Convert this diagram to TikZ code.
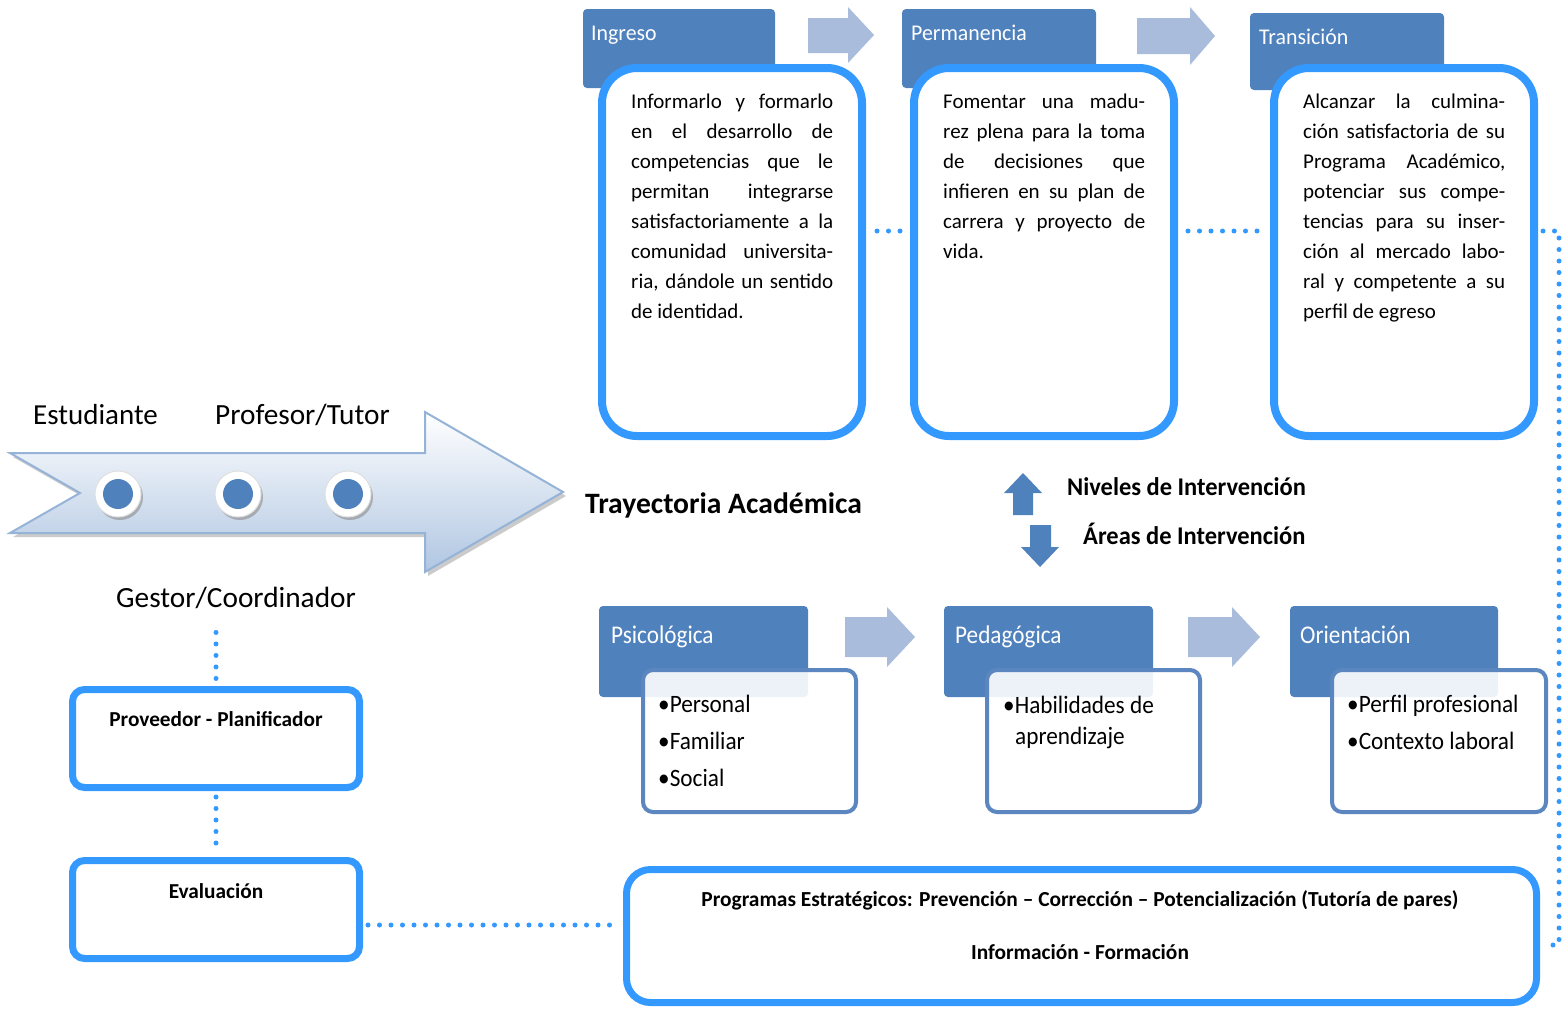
\documentclass[tikz,border=0pt]{standalone}
\usepackage{fontspec}
\setmainfont{Carlito}
\usetikzlibrary{shadows,calc}
\definecolor{hdr}{HTML}{4F81BD}
\definecolor{brt}{HTML}{3399FF}
\definecolor{lar}{HTML}{A9BCDB}
\definecolor{abord}{HTML}{95B3D7}
\definecolor{agrad}{HTML}{B0C6E2}
\definecolor{sbord}{HTML}{5B86BF}
\newcommand{\bodyfont}{\fontsize{21}{30}\selectfont\tolerance=10000\hyphenpenalty=10000\rightskip=0pt}
\newcommand{\hdrtext}[1]{\scalebox{0.97}[1]{\fontsize{22.5}{24}\selectfont #1}}
\newcommand{\hdrtextb}[1]{\scalebox{0.91}[1]{\fontsize{25.5}{26}\selectfont #1}}
\newcommand{\bultext}[1]{\scalebox{0.93}[1]{\fontsize{25}{26}\selectfont #1}}
\begin{document}
\begin{tikzpicture}[x=1pt,y=-1pt,
  hdrbox/.style={fill=hdr, draw=none, rounded corners=4pt, inner sep=0pt},
  bigbox/.style={draw=brt, line width=8pt, fill=white, rounded corners=35pt, inner sep=0pt},
  smallbox/.style={draw=sbord, line width=4pt, fill=white, fill opacity=0.9, rounded corners=10pt, inner sep=0pt},
  midbox/.style={draw=brt, line width=7pt, fill=white, rounded corners=12pt, inner sep=0pt},
  lbl/.style={inner sep=0pt, text=black},
  hlbl/.style={inner sep=0pt, text=white, anchor=base west},
  dotline/.style={draw=brt, line width=5pt, line cap=round, dash pattern=on 0pt off 11.5pt},
  lightarrow/.style={fill=lar, draw=none},
  ring/.style={circle, fill=white, draw=black!12, line width=1pt, minimum size=46pt, inner sep=0pt,
     drop shadow={shadow xshift=2pt, shadow yshift=-3pt, fill=black!45, opacity=0.6}},
  dotc/.style={circle, fill=hdr, minimum size=30pt, inner sep=0pt}
]
\useasboundingbox (0,0) rectangle (1562,1010);
\fill[white] (0,0) rectangle (1562,1010);

% ---------- top row ----------
\node[hdrbox, minimum width=192pt, minimum height=79pt] (inghdr) at (679,48.5) {};
\node[hdrbox, minimum width=194pt, minimum height=79pt] (permhdr) at (999,48.5) {};
\node[hdrbox, minimum width=194pt, minimum height=77pt] (transhdr) at (1347,51.5) {};
\node[hlbl] (ingt) at (591,40) {\hdrtext{Ingreso}};
\node[hlbl] (permt) at (911,40) {\hdrtext{Permanencia}};
\node[hlbl] (transt) at (1259,44) {\hdrtext{Transición}};

\fill[lightarrow] (808,18) -- (848,18) -- (848,7) -- (874,35) -- (848,63) -- (848,53) -- (808,53) -- cycle;
\fill[lightarrow] (1137,18) -- (1190,18) -- (1190,7) -- (1215,36) -- (1190,65) -- (1190,54) -- (1137,54) -- cycle;

\node[bigbox, minimum width=260pt, minimum height=368pt] (ingbox) at (732,252) {};
\node[bigbox, minimum width=260pt, minimum height=368pt] (permbox) at (1044,252) {};
\node[bigbox, minimum width=260pt, minimum height=368pt] (transbox) at (1404,252) {};

\node[lbl, anchor=base west] (ingtxt) at (631,108) {\parbox[t]{202pt}{\bodyfont
Informarlo y formarlo\linebreak
en el desarrollo de\linebreak
competencias que le\linebreak
permitan integrarse\linebreak
satisfactoriamente a la\linebreak
comunidad universita-\linebreak
ria, dándole un sentido\linebreak
de identidad.}};
\node[lbl, anchor=base west] (permtxt) at (943,108) {\parbox[t]{202pt}{\bodyfont
Fomentar una madu-\linebreak
rez plena para la toma\linebreak
de decisiones que\linebreak
infieren en su plan de\linebreak
carrera y proyecto de\linebreak
vida.}};
\node[lbl, anchor=base west] (transtxt) at (1303,108) {\parbox[t]{202pt}{\bodyfont
Alcanzar la culmina-\linebreak
ción satisfactoria de su\linebreak
Programa Académico,\linebreak
potenciar sus compe-\linebreak
tencias para su inser-\linebreak
ción al mercado labo-\linebreak
ral y competente a su\linebreak
perfil de egreso}};

% ---------- big arrow ----------
\fill[black!40, opacity=0.5, xshift=3pt, yshift=-4pt] (10,453) -- (425,453) -- (425,412) -- (563,492) -- (425,572) -- (425,533) -- (10,533) -- (80,493) -- cycle;
\shadedraw[top color=white, bottom color=agrad, draw=abord, line width=2pt, line join=miter]
  (10,453) -- (425,453) -- (425,412) -- (563,492) -- (425,572) -- (425,533) -- (10,533) -- (80,493) -- cycle;
\node[ring] (r1) at (118,494) {};
\node[ring] (r2) at (238,494) {};
\node[ring] (r3) at (348,494) {};
\node[dotc] (d1) at (r1) {};
\node[dotc] (d2) at (r2) {};
\node[dotc] (d3) at (r3) {};

\node[lbl, anchor=base west] (estud) at (33,424) {\fontsize{29}{30}\selectfont Estudiante};
\node[lbl, anchor=base west] (prof) at (215,424) {\fontsize{29.3}{30}\selectfont Profesor/Tutor};
\node[lbl, anchor=base west] (gestor) at (116,607) {\fontsize{29.3}{30}\selectfont Gestor/Coordinador};
\node[lbl, anchor=base west] (tray) at (585,513) {\fontsize{29.6}{30}\selectfont\bfseries Trayectoria Académica};

% ---------- niveles / areas ----------
\fill[hdr] (1023,473) -- (1042,493) -- (1033,493) -- (1033,515) -- (1013,515) -- (1013,493) -- (1004,493) -- cycle;
\fill[hdr] (1040,567) -- (1059,547) -- (1051,547) -- (1051,525) -- (1030,525) -- (1030,547) -- (1021,547) -- cycle;
\node[lbl, anchor=base west] (niv) at (1067,495) {\scalebox{0.96}[1]{\fontsize{25.5}{26}\selectfont\bfseries Niveles de Intervención}};
\node[lbl, anchor=base west] (areas) at (1083,544) {\scalebox{0.96}[1]{\fontsize{25.5}{26}\selectfont\bfseries Áreas de Intervención}};

% ---------- bottom row ----------
\node[hdrbox, minimum width=209pt, minimum height=91pt] (psihdr) at (703.5,651.5) {};
\node[hdrbox, minimum width=209pt, minimum height=91pt] (pedhdr) at (1048.5,651.5) {};
\node[hdrbox, minimum width=208pt, minimum height=91pt] (orihdr) at (1394,651.5) {};
\node[hlbl] (psit) at (611,643) {\hdrtextb{Psicológica}};
\node[hlbl] (pedt) at (955,643) {\hdrtextb{Pedagógica}};
\node[hlbl] (orit) at (1300,643) {\hdrtextb{Orientación}};

\fill[lightarrow] (845,617) -- (887,617) -- (887,607) -- (915,637) -- (887,667) -- (887,657) -- (845,657) -- cycle;
\fill[lightarrow] (1188,617) -- (1232,617) -- (1232,607) -- (1260,637) -- (1232,667) -- (1232,657) -- (1188,657) -- cycle;

\node[smallbox, minimum width=213pt, minimum height=142pt] (psibox) at (749.5,741) {};
\node[smallbox, minimum width=213pt, minimum height=142pt] (pedbox) at (1093.5,741) {};
\node[smallbox, minimum width=214pt, minimum height=142pt] (oribox) at (1439,741) {};

\node[lbl, anchor=base west] (p1) at (658,712) {\bultext{•Personal}};
\node[lbl, anchor=base west] (p2) at (658,749) {\bultext{•Familiar}};
\node[lbl, anchor=base west] (p3) at (658,786) {\bultext{•Social}};
\node[lbl, anchor=base west] (h1) at (1003,713) {\bultext{•Habilidades de}};
\node[lbl, anchor=base west] (h2) at (1015,744) {\bultext{aprendizaje}};
\node[lbl, anchor=base west] (o1) at (1347,712) {\bultext{•Perfil profesional}};
\node[lbl, anchor=base west] (o2) at (1347,749) {\bultext{•Contexto laboral}};

% ---------- left column ----------
\node[midbox, minimum width=287pt, minimum height=98pt] (prov) at (216,738.5) {};
\node[midbox, minimum width=287pt, minimum height=98pt] (eval) at (216,909.5) {};
\node[lbl, anchor=base] (provt) at (216,726) {\fontsize{21.3}{22}\selectfont\bfseries Proveedor - Planificador};
\node[lbl, anchor=base] (evalt) at (216,898) {\fontsize{21.3}{22}\selectfont\bfseries Evaluación};

% ---------- bottom programme box ----------
\node[bigbox, line width=7pt, rounded corners=24pt, minimum width=910pt, minimum height=133pt] (progbox) at (1081.5,936) {};
\node[lbl, anchor=base] (progt1) at (1080,906) {\fontsize{21.4}{22}\selectfont\bfseries Programas Estratégicos: Prevención – Corrección – Potencialización (Tutoría de pares)};
\node[lbl, anchor=base] (progt2) at (1080,959) {\fontsize{21.4}{22}\selectfont\bfseries Información - Formación};

% ---------- dotted connectors ----------
\draw[dotline, shorten <=11pt, shorten >=4pt] ([yshift=21pt]ingbox.east) -- ([yshift=21pt]permbox.west);
\draw[dotline, shorten <=10pt, shorten >=6pt] ([yshift=21pt]permbox.east) -- ([yshift=21pt]transbox.west);
\coordinate (rc) at (1559,945);
\draw[dotline, shorten >=5pt] ([yshift=21pt,xshift=5pt]transbox.east) -| (rc) -- ([yshift=-9pt]progbox.east);
\draw[dotline, shorten <=24pt, shorten >=4pt] (prov.north |- gestor.south) -- (prov.north);
\draw[dotline, shorten <=6pt, shorten >=9pt] (prov.south) -- (eval.north);
\draw[dotline, shorten <=5pt, shorten >=3pt] ([yshift=-15.5pt]eval.east) -- ([yshift=-15.5pt]eval.east -| progbox.west);
\end{tikzpicture}
\end{document}
